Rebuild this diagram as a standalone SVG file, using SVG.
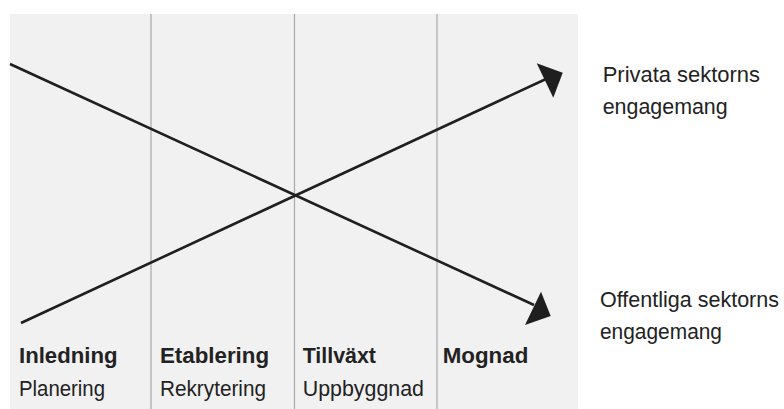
<svg xmlns="http://www.w3.org/2000/svg" width="784" height="409" viewBox="0 0 784 409">
<style>
.bg{fill:#f1f1f1}
.div{stroke:#a8a8a8;stroke-width:1.2}
.ln{stroke:#1f1f1f;stroke-width:2.6;fill:none}
.hd{fill:#1f1f1f}
text{font-family:"Liberation Sans",Arial,sans-serif;fill:#222;font-size:22px}
.b{font-weight:bold}
</style>
<rect class="bg" x="10" y="14" width="568" height="395"/>
<g id="dividers">
<line class="div" x1="151" y1="14" x2="151" y2="409"/>
<line class="div" x1="294.5" y1="14" x2="294.5" y2="409"/>
<line class="div" x1="437" y1="14" x2="437" y2="409"/>
</g>
<g id="connectors">
<line class="ln" x1="10" y1="64" x2="534" y2="305"/>
<polygon class="hd" points="541,291.7 550.7,316 525,325"/>
<line class="ln" x1="21" y1="323" x2="546" y2="79"/>
<polygon class="hd" points="536.7,63.3 562.7,72.7 553.3,97.7"/>
</g>
<g id="phase-inledning">
<text class="b" x="19" y="363.3" textLength="98.5" lengthAdjust="spacingAndGlyphs">Inledning</text>
<text x="19" y="395.7" textLength="86" lengthAdjust="spacingAndGlyphs">Planering</text>
</g>
<g id="phase-etablering">
<text class="b" x="160" y="363.3" textLength="109" lengthAdjust="spacingAndGlyphs">Etablering</text>
<text x="160" y="395.7" textLength="106" lengthAdjust="spacingAndGlyphs">Rekrytering</text>
</g>
<g id="phase-tillvaxt">
<text class="b" x="302.7" y="363.3" textLength="73.3" lengthAdjust="spacingAndGlyphs">Tillväxt</text>
<text x="302.7" y="395.7" textLength="121.3" lengthAdjust="spacingAndGlyphs">Uppbyggnad</text>
</g>
<g id="phase-mognad">
<text class="b" x="442.7" y="363.3" textLength="85.6" lengthAdjust="spacingAndGlyphs">Mognad</text>
</g>
<g id="label-privata">
<text x="602.7" y="81.7" textLength="157.3" lengthAdjust="spacingAndGlyphs">Privata sektorns</text>
<text x="602.7" y="114" textLength="125" lengthAdjust="spacingAndGlyphs">engagemang</text>
</g>
<g id="label-offentliga">
<text x="600" y="306.7" textLength="179" lengthAdjust="spacingAndGlyphs">Offentliga sektorns</text>
<text x="600" y="338.5" textLength="122" lengthAdjust="spacingAndGlyphs">engagemang</text>
</g>
</svg>
